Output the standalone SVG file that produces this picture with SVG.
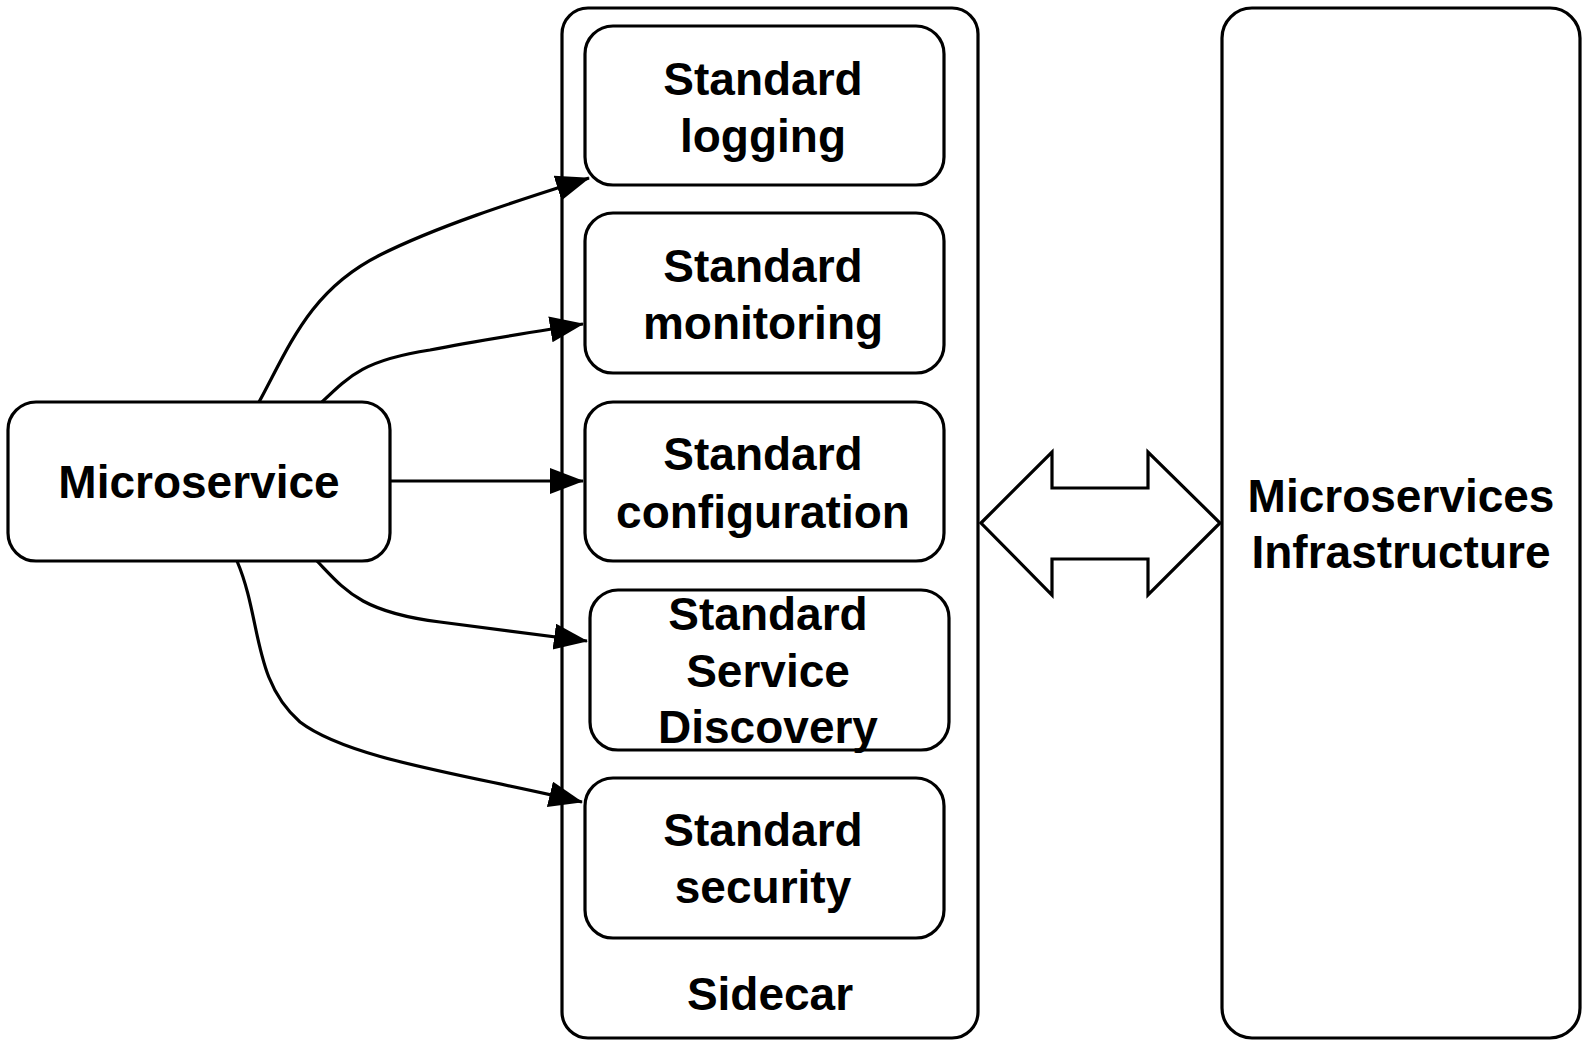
<svg xmlns="http://www.w3.org/2000/svg" width="1586" height="1044" viewBox="0 0 1586 1044">
<style>
.box{fill:#fff;stroke:#000;stroke-width:3.2}
.t{font-family:"Liberation Sans",Arial,Helvetica,sans-serif;font-weight:bold;font-size:46px;fill:#000;text-anchor:middle}
.edge{fill:none;stroke:#000;stroke-width:3.2;marker-end:url(#ah)}
</style>
<defs>
<marker id="ah" markerUnits="userSpaceOnUse" markerWidth="36" markerHeight="28" refX="33" refY="13" orient="auto">
<path d="M0,0 L34,13 L0,26 z" fill="#000"/>
</marker>
</defs>
<rect width="1586" height="1044" fill="#fff"/>
<g id="sidecar">
<rect class="box" x="562" y="8" width="416" height="1030" rx="26"/>
<text class="t" x="770" y="1010">Sidecar</text>
</g>
<g id="infrastructure">
<rect class="box" x="1222" y="8" width="358" height="1030" rx="30"/>
<text class="t" x="1401" y="512">Microservices</text>
<text class="t" x="1401" y="568">Infrastructure</text>
</g>
<g id="microservice">
<rect class="box" x="8" y="402" width="382" height="159" rx="28"/>
<text class="t" x="199" y="498">Microservice</text>
</g>
<g id="logging">
<rect class="box" x="585" y="26" width="359" height="159" rx="28"/>
<text class="t" x="763" y="95">Standard</text>
<text class="t" x="763" y="152">logging</text>
</g>
<g id="monitoring">
<rect class="box" x="585" y="213" width="359" height="160" rx="28"/>
<text class="t" x="763" y="282">Standard</text>
<text class="t" x="763" y="339">monitoring</text>
</g>
<g id="configuration">
<rect class="box" x="585" y="402" width="359" height="159" rx="28"/>
<text class="t" x="763" y="470">Standard</text>
<text class="t" x="763" y="528">configuration</text>
</g>
<g id="discovery">
<rect class="box" x="590" y="590" width="359" height="160" rx="28"/>
<text class="t" x="768" y="630">Standard</text>
<text class="t" x="768" y="687">Service</text>
<text class="t" x="768" y="743">Discovery</text>
</g>
<g id="security">
<rect class="box" x="585" y="778" width="359" height="160" rx="28"/>
<text class="t" x="763" y="846">Standard</text>
<text class="t" x="763" y="903">security</text>
</g>
<g id="double-arrow">
<path class="box" d="M981,523 L1052,452 L1052,488 L1148,488 L1148,452 L1220,523 L1148,595 L1148,559 L1052,559 L1052,595 Z" stroke-linejoin="miter"/>
</g>
<g id="connectors">
<path class="edge" d="M259,402 C290,345 310,290 380,255 C440,225 520,200 589,178"/>
<path class="edge" d="M322,402 C350,375 365,360 430,350 C480,340 540,331 583,324"/>
<path class="edge" d="M390,481 L583,481"/>
<path class="edge" d="M317,561 C345,590 360,612 440,622 C500,630 550,636 587,641"/>
<path class="edge" d="M237,561 C262,620 252,680 300,722 C350,760 470,775 582,802"/>
</g>
</svg>
